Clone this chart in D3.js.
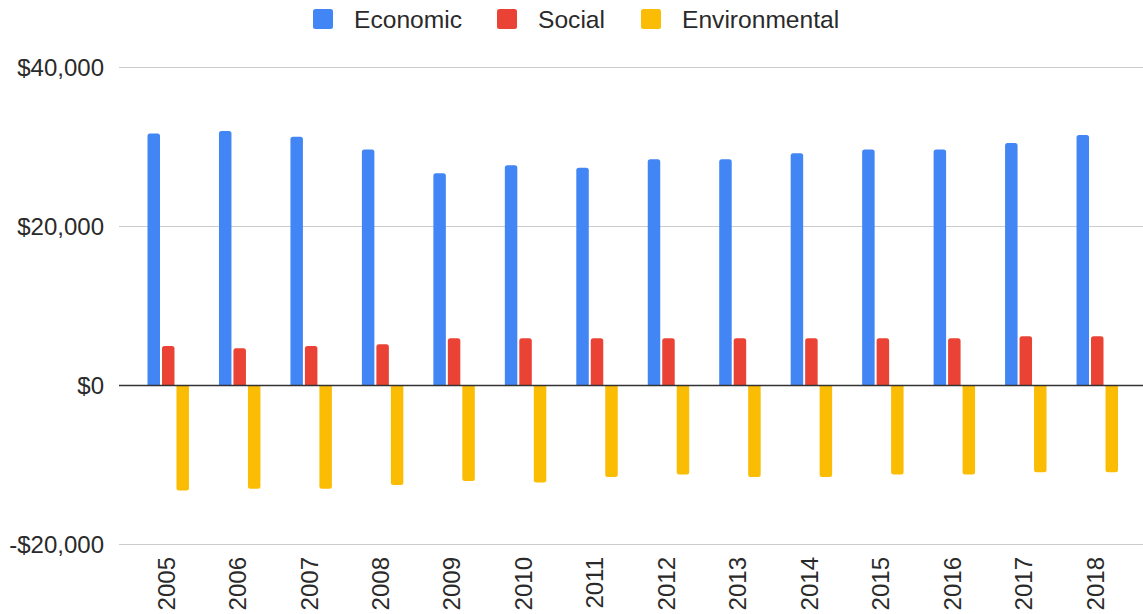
<!DOCTYPE html>
<html>
<head>
<meta charset="utf-8">
<script src="https://cdn.jsdelivr.net/npm/d3@7"></script>
<style>
  html, body { margin: 0; padding: 0; background: #fff; }
  svg { display: block; font-family: "Liberation Sans", Arial, sans-serif; }
</style>
</head>
<body>
<svg id="chart" width="1143" height="614"></svg>
<script>
// Yearly values by dimension (USD)
const years = ["2005","2006","2007","2008","2009","2010","2011","2012","2013","2014","2015","2016","2017","2018"];
const economic = [31700, 32000, 31300, 29700, 26700, 27700, 27400, 28450, 28450, 29200, 29700, 29700, 30500, 31500];
const social = [4970, 4680, 4970, 5180, 5940, 5940, 5940, 5940, 5940, 5940, 5940, 5940, 6190, 6190];
const environmental = [-13200, -13000, -13000, -12500, -12000, -12200, -11500, -11200, -11500, -11500, -11200, -11200, -10900, -10900];
const seriesNames = ["Economic", "Social", "Environmental"];
const seriesColors = ["#4285F4", "#EA4335", "#FBBC04"];
const yTicks = [-20000, 0, 20000, 40000];

const seriesValues = [economic, social, environmental];
const rows = years.map((yr, i) => ({
  year: yr,
  values: seriesNames.map((name, s) => ({ name, value: seriesValues[s][i] }))
}));

const svg = d3.select("#chart");
const gridLeft = 119, gridRight = 1143;

const y = d3.scaleLinear().domain([-20000, 40000]).range([544.5, 67.5]);
const x = d3.scaleBand().domain(years).range([132.5, 1133]).padding(0);
const groupW = x.bandwidth() * 0.58;
const inner = d3.scaleBand().domain(seriesNames)
  .range([(x.bandwidth() - groupW) / 2, (x.bandwidth() + groupW) / 2])
  .paddingInner(0.138);
const color = d3.scaleOrdinal().domain(seriesNames).range(seriesColors);

// Gridlines and y labels
const fmt = v => (v < 0 ? "-$" : "$") + d3.format(",")(Math.abs(v));
const grid = svg.append("g");
grid.selectAll("line").data(yTicks.filter(t => t !== 0)).join("line")
  .attr("x1", gridLeft).attr("x2", gridRight)
  .attr("y1", d => y(d)).attr("y2", d => y(d))
  .attr("stroke", "#cccccc").attr("stroke-width", 1.2);

svg.append("g").selectAll("text").data(yTicks).join("text")
  .attr("x", 104).attr("y", d => y(d)).attr("dy", "0.35em")
  .attr("text-anchor", "end")
  .attr("font-size", 24).attr("fill", "#2a2a2a")
  .text(fmt);

// Bars: rounded at the end away from zero
function barPath(x0, w, v) {
  const y0 = y(0), y1 = y(v);
  const r = Math.min(2.5, w / 2, Math.abs(y1 - y0));
  if (v >= 0) {
    return `M${x0},${y0}V${y1 + r}Q${x0},${y1} ${x0 + r},${y1}H${x0 + w - r}Q${x0 + w},${y1} ${x0 + w},${y1 + r}V${y0}Z`;
  }
  return `M${x0},${y0}V${y1 - r}Q${x0},${y1} ${x0 + r},${y1}H${x0 + w - r}Q${x0 + w},${y1} ${x0 + w},${y1 - r}V${y0}Z`;
}

const groups = svg.append("g").selectAll("g").data(rows).join("g")
  .attr("transform", d => `translate(${x(d.year)},0)`);
groups.selectAll("path").data(d => d.values).join("path")
  .attr("d", d => barPath(inner(d.name), inner.bandwidth(), d.value))
  .attr("fill", d => color(d.name));

// Zero baseline
svg.append("line")
  .attr("x1", gridLeft).attr("x2", gridRight)
  .attr("y1", y(0)).attr("y2", y(0))
  .attr("stroke", "#333").attr("stroke-width", 1.6);

// X labels, rotated
svg.append("g").selectAll("text").data(years).join("text")
  .attr("transform", d => `translate(${x(d) + x.bandwidth() / 2 - 2},557) rotate(-90)`)
  .attr("dy", "0.35em")
  .attr("text-anchor", "end")
  .attr("font-size", 24).attr("fill", "#2a2a2a")
  .text(d => d);

// Legend
const legendItems = [
  { name: "Economic", x: 313 },
  { name: "Social", x: 497 },
  { name: "Environmental", x: 641 }
];
const legend = svg.append("g").selectAll("g").data(legendItems).join("g")
  .attr("transform", d => `translate(${d.x},9)`);
legend.append("rect")
  .attr("width", 20).attr("height", 20).attr("rx", 2.5)
  .attr("fill", d => color(d.name));
legend.append("text")
  .attr("x", 41).attr("y", 10).attr("dy", "0.35em")
  .attr("font-size", 24.6).attr("fill", "#2a2a2a")
  .text(d => d.name);
</script>
</body>
</html>
